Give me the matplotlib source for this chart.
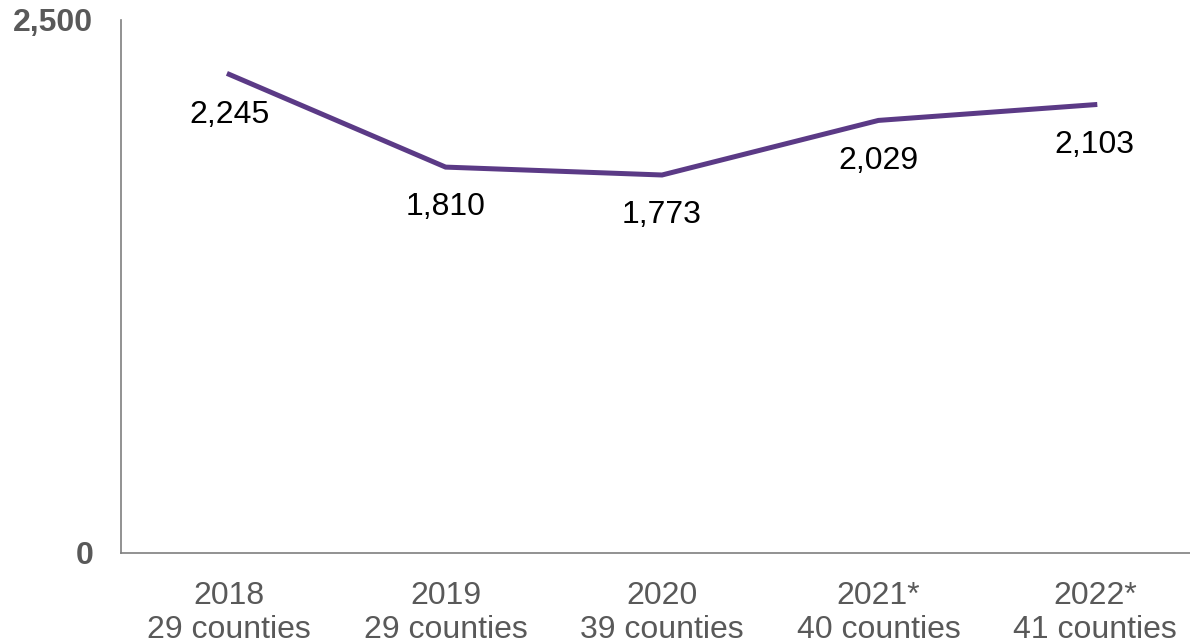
import matplotlib
matplotlib.use('Agg')
import matplotlib.pyplot as plt

years = ['2018', '2019', '2020', '2021*', '2022*']
counties = ['29 counties', '29 counties', '39 counties', '40 counties', '41 counties']
values = [2245, 1810, 1773, 2029, 2103]

plt.rcParams['font.family'] = ['Liberation Sans', 'DejaVu Sans']

fig = plt.figure(figsize=(11.9, 6.44), dpi=100)
ax = fig.add_axes([121 / 1190, 91 / 644, 1082 / 1190, 533 / 644])

x = list(range(len(values)))
ax.plot(x, values, color='#5B3A86', linewidth=3.6, solid_joinstyle='miter')

for xi, v in zip(x, values):
    ax.annotate(f'{v:,}', (xi, v), xytext=(0, -29), textcoords='offset points',
                ha='center', va='center', fontsize=23, color='black')

ax.set_xlim(-0.5, len(values) - 0.5)
ax.set_ylim(0, 2500)
ax.set_yticks([0, 2500])
ax.set_yticklabels(['0', '2,500'], fontsize=23, fontweight='bold', color='#595959')
ax.set_xticks(x)
ax.set_xticklabels([f'{y}\n{c}' for y, c in zip(years, counties)], fontsize=23,
                   color='#595959', linespacing=1.2)
ax.tick_params(axis='both', length=0)
ax.tick_params(axis='y', pad=20)
ax.tick_params(axis='x', pad=20)

for s in ['top', 'right']:
    ax.spines[s].set_visible(False)
for s in ['left', 'bottom']:
    ax.spines[s].set_color('#7F7F7F')
    ax.spines[s].set_linewidth(1.2)

fig.savefig('out.png', dpi=100)
